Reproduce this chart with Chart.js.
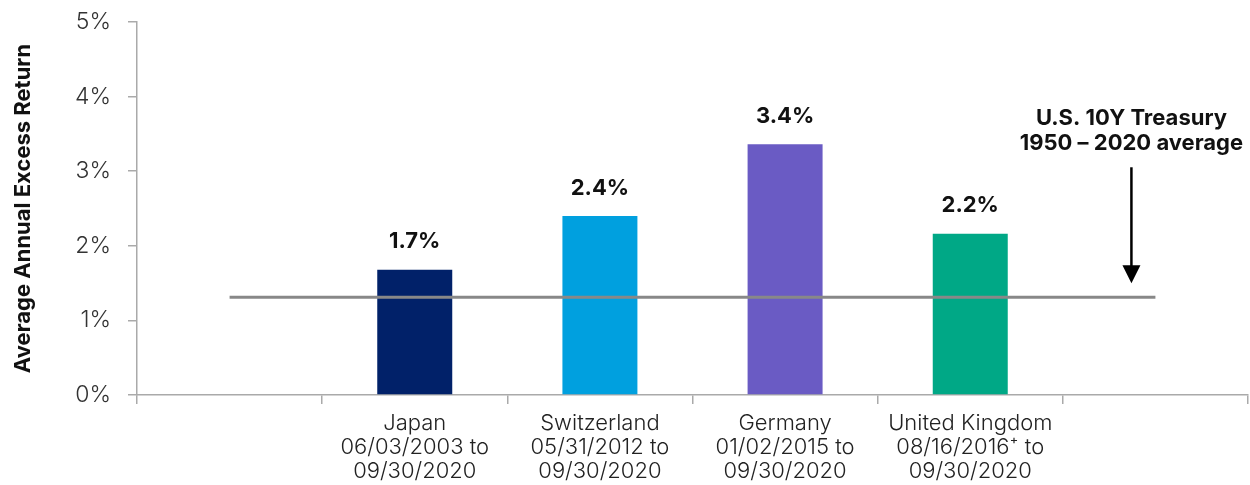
<!DOCTYPE html>
<html>
<head>
<meta charset="utf-8">
<script src="https://cdn.jsdelivr.net/npm/chart.js@4"></script>
<style>
  html, body { margin: 0; padding: 0; background: #fff; }
  #wrap { width: 1250px; height: 485px; position: relative; }
</style>
</head>
<body>
<div id="wrap"><canvas id="grafico"></canvas></div>
<script>
// datos del grafico
const categorias = [
    [''],
    ['Japan', '06/03/2003 to', '09/30/2020'],
    ['Switzerland', '05/31/2012 to', '09/30/2020'],
    ['Germany', '01/02/2015 to', '09/30/2020'],
    ['United Kingdom', '08/16/2016\u207A to', '09/30/2020'],
    ['']
];
const excesoRetorno = [null, 1.68, 2.40, 3.36, 2.16, null];
const etiquetasBarras = [null, '1.7%', '2.4%', '3.4%', '2.2%', null];
const promedioTesoro = [1.31, 1.31, 1.31, 1.31, 1.31, 1.31];
const coloresBarras = ['#000', '#012169', '#00a0df', '#6a5bc4', '#00a886', '#000'];
const textoNota = ['U.S. 10Y Treasury', '1950 \u2013 2020 average'];
const ticksEjeY = [0, 1, 2, 3, 4, 5];

const fuente = 'Inter, "Noto Sans", sans-serif';

// etiquetas encima de las barras y la flecha con la nota
const pluginEtiquetas = {
    id: 'etiquetas',
    afterDatasetsDraw(chart) {
        const ctx = chart.ctx;
        const meta = chart.getDatasetMeta(1);
        ctx.save();
        ctx.fillStyle = '#111';
        ctx.font = '700 22px ' + fuente;
        ctx.textAlign = 'center';
        ctx.textBaseline = 'middle';
        meta.data.forEach((bar, i) => {
            if (etiquetasBarras[i] == null) return;
            ctx.fillText(etiquetasBarras[i], bar.x, bar.y - 28);
        });

        // nota del promedio
        const x = chart.scales.x.getPixelForValue(5) - 24;
        const yLinea = chart.scales.y.getPixelForValue(promedioTesoro[5]);
        ctx.font = '700 22px ' + fuente;
        ctx.fillText(textoNota[0], x, yLinea - 179);
        ctx.fillText(textoNota[1], x, yLinea - 154);

        ctx.strokeStyle = '#000';
        ctx.lineWidth = 2.5;
        ctx.beginPath();
        ctx.moveTo(x, yLinea - 130);
        ctx.lineTo(x, yLinea - 28);
        ctx.stroke();
        ctx.fillStyle = '#000';
        ctx.beginPath();
        ctx.moveTo(x - 9, yLinea - 32);
        ctx.lineTo(x + 9, yLinea - 32);
        ctx.lineTo(x, yLinea - 14);
        ctx.closePath();
        ctx.fill();
        ctx.restore();
    }
};

const chart = new Chart(document.getElementById('grafico'), {
    data: {
        labels: categorias,
        datasets: [
            {
                type: 'line',
                data: promedioTesoro,
                borderColor: '#888888',
                borderWidth: 3,
                pointRadius: 0,
                fill: false,
                order: 0
            },
            {
                type: 'bar',
                data: excesoRetorno,
                backgroundColor: coloresBarras,
                barPercentage: 0.405,
                categoryPercentage: 1,
                order: 1
            }
        ]
    },
    options: {
        responsive: true,
        maintainAspectRatio: false,
        animation: false,
        layout: { padding: { top: 22, right: 2, left: 10, bottom: 0 } },
        plugins: {
            legend: { display: false },
            tooltip: { enabled: false }
        },
        scales: {
            x: {
                offset: true,
                grid: {
                    offset: true,
                    drawOnChartArea: false,
                    drawTicks: true,
                    tickLength: 9,
                    color: '#aaaaaa',
                    lineWidth: 1.5
                },
                border: { color: '#aaaaaa', width: 1.5 },
                ticks: {
                    color: '#222',
                    font: { family: fuente, size: 22, weight: '300', lineHeight: 1.08 },
                    padding: 8,
                    maxRotation: 0,
                    autoSkip: false
                },
                afterFit(s) { s.height = 90; }
            },
            y: {
                min: 0,
                max: 5,
                afterBuildTicks(s) { s.ticks = ticksEjeY.map(v => ({ value: v })); },
                grid: {
                    drawOnChartArea: false,
                    drawTicks: true,
                    tickLength: 9,
                    color: '#aaaaaa',
                    lineWidth: 1.5
                },
                border: { color: '#aaaaaa', width: 1.5 },
                ticks: {
                    color: '#333',
                    font: { family: fuente, size: 23, weight: '300' },
                    padding: 17,
                    callback: v => v + '%'
                },
                title: {
                    display: true,
                    text: 'Average Annual Excess Return',
                    color: '#111',
                    font: { family: fuente, size: 22, weight: '700' },
                    padding: { top: 0, bottom: 0 }
                },
                afterFit(s) {
                    s.width = 127;
                    s.paddingTop = 0;
                    s.paddingBottom = 0;
                }
            }
        }
    },
    plugins: [pluginEtiquetas]
});
</script>
</body>
</html>
